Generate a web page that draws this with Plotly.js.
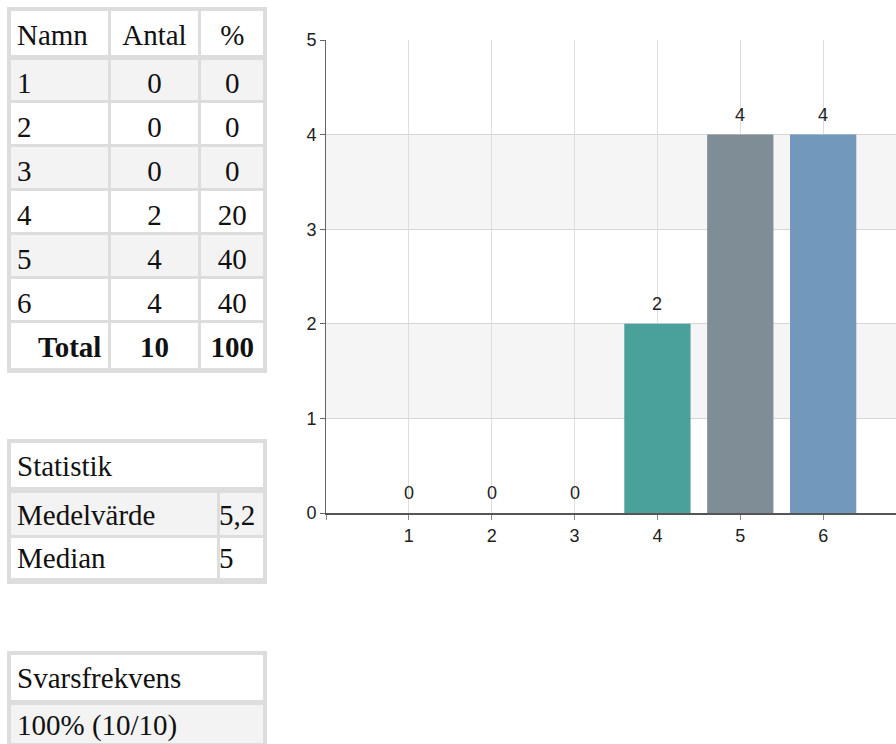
<!DOCTYPE html>
<html><head><meta charset="utf-8">
<script src="https://cdn.plot.ly/plotly-3.0.1.min.js"></script>
<style>html,body{margin:0;padding:0;overflow:hidden;background:#fff}#chart{width:920px;height:744px}</style>
</head><body><div id="chart"></div>
<script>
const categories = [1, 2, 3, 4, 5, 6];
const counts = [0, 0, 0, 2, 4, 4];
const percents = [0, 0, 0, 20, 40, 40];
const tableHeaders = ['Namn', 'Antal', '%'];
const totalLabel = 'Total';
const totalCount = 10;
const totalPercent = 100;
const statTitle = 'Statistik';
const statLabels = ['Medelvärde', 'Median'];
const statValues = ['5,2', '5'];
const responseTitle = 'Svarsfrekvens';
const responseRate = '100% (10/10)';
const barColors = ['#4aa09a', '#4aa09a', '#4aa09a', '#4aa09a', '#7f8e96', '#7298bc'];

const W = 920, H = 744;
const px = v => v / W;
const py = v => (H - v) / H;
const serif = () => ({family: 'Liberation Serif, Times New Roman, serif', size: 29, color: '#111'});
const sans = () => ({family: 'Liberation Sans, Arial, sans-serif', size: 18, color: '#222'});
const grey = '#dddddd';

const rowFills = categories.map((c, i) => i % 2 === 0 ? '#f3f3f3' : '#ffffff').concat(['#ffffff']);

const traces = [
  {
    type: 'bar', x: categories, y: counts, width: 0.8,
    marker: {color: barColors, line: {width: 0}},
    hoverinfo: 'x+y', showlegend: false
  },
  {
    type: 'table',
    domain: {x: [px(9), px(265)], y: [py(372), py(9)]},
    columnwidth: [98, 88, 64],
    header: {
      values: tableHeaders, align: ['left', 'center', 'center'], height: 48,
      fill: {color: '#ffffff'}, line: {color: grey, width: 3}, font: serif()
    },
    cells: {
      values: [
        categories.map(String).concat(['<b>' + totalLabel + '</b>']),
        counts.map(String).concat(['<b>' + totalCount + '</b>']),
        percents.map(String).concat(['<b>' + totalPercent + '</b>'])
      ],
      align: [categories.map(() => 'left').concat(['right']), 'center', 'center'],
      height: 44, fill: {color: [rowFills, rowFills, rowFills]},
      line: {color: grey, width: 3}, font: serif()
    }
  },
  {
    type: 'table',
    domain: {x: [px(9), px(265)], y: [py(489), py(440)]},
    header: {
      values: [statTitle], align: 'left', height: 49,
      fill: {color: '#ffffff'}, line: {color: grey, width: 3}, font: serif()
    },
    cells: {values: [[]], height: 43, line: {color: grey, width: 3}, font: serif()}
  },
  {
    type: 'table',
    domain: {x: [px(9), px(265)], y: [py(583), py(491)]},
    columnwidth: [205, 45],
    header: {
      values: [statLabels[0], statValues[0]], align: 'left', height: 45,
      fill: {color: '#f3f3f3'}, line: {color: grey, width: 3}, font: serif()
    },
    cells: {
      values: [statLabels.slice(1), statValues.slice(1)], align: 'left', height: 43,
      fill: {color: '#ffffff'}, line: {color: grey, width: 3}, font: serif()
    }
  },
  {
    type: 'table',
    domain: {x: [px(9), px(265)], y: [0, py(652)]},
    header: {
      values: [responseTitle], align: 'left', height: 51,
      fill: {color: '#ffffff'}, line: {color: grey, width: 3}, font: serif()
    },
    cells: {
      values: [[responseRate]], align: 'left', height: 41,
      fill: {color: '#f3f3f3'}, line: {color: grey, width: 3}, font: serif()
    }
  }
];

const annotations = categories.map((c, i) => ({
  x: c, y: counts[i], text: String(counts[i]), showarrow: false,
  yanchor: 'bottom', yshift: 8, font: sans()
}));

const frame = (y0, y1) => ({type: 'rect', xref: 'paper', yref: 'paper', x0: px(9), x1: px(265), y0: py(y1), y1: py(y0), line: {color: grey, width: 4}, fillcolor: 'rgba(0,0,0,0)'});
const hline = (y, w) => ({type: 'line', xref: 'paper', yref: 'paper', x0: px(9), x1: px(265), y0: py(y), y1: py(y), line: {color: grey, width: w}});

const shapes = [
  {type: 'rect', xref: 'x domain', yref: 'y', x0: 0, x1: 1, y0: 1, y1: 2, fillcolor: '#f5f5f5', line: {width: 0}, layer: 'below'},
  {type: 'rect', xref: 'x domain', yref: 'y', x0: 0, x1: 1, y0: 3, y1: 4, fillcolor: '#f5f5f5', line: {width: 0}, layer: 'below'},
  frame(9, 371), frame(441, 582), frame(653, 770),
  hline(57.5, 5), hline(489.5, 5), hline(702.5, 5)
];

const layout = {
  width: W, height: H,
  margin: {l: 0, r: 0, t: 0, b: 0, pad: 0},
  paper_bgcolor: '#ffffff', plot_bgcolor: 'rgba(0,0,0,0)',
  showlegend: false, bargap: 0.2,
  font: sans(),
  xaxis: {
    domain: [px(326), px(906)], range: [0, 7],
    tickvals: [0].concat(categories), ticktext: [''].concat(categories.map(String)),
    ticks: 'outside', ticklen: 5, tickcolor: '#888', tickfont: sans(),
    showgrid: true, gridcolor: '#dedede', gridwidth: 1,
    showline: true, linecolor: '#555', linewidth: 2, zeroline: false,
    fixedrange: true
  },
  yaxis: {
    domain: [py(513), py(40)], range: [0, 5], dtick: 1, tick0: 0,
    ticks: 'outside', ticklen: 5, tickcolor: '#666', tickfont: sans(),
    showgrid: true, gridcolor: '#d6d6d6', gridwidth: 1,
    showline: true, linecolor: '#666', linewidth: 1, zeroline: false,
    fixedrange: true
  },
  annotations: annotations,
  shapes: shapes
};

Plotly.newPlot('chart', traces, layout, {displayModeBar: false, staticPlot: true}).then(gd => {
  gd.querySelectorAll('.cell-text').forEach(el => {
    const r = el.getBoundingClientRect();
    const dx = (r.left > 214 && r.top > 480 && r.top < 590) ? -8 : 0;
    let dy = 6;
    if ((r.top > 325 && r.top < 372) || r.top > 700) dy = 2;
    else if (r.top > 490 && r.top < 530) dy = 4;
    else if (r.top >= 530 && r.top < 590) dy = 2;
    el.setAttribute('transform', (el.getAttribute('transform') || '') + ' translate(' + dx + ',' + dy + ')');
  });
});
</script>
</body></html>
